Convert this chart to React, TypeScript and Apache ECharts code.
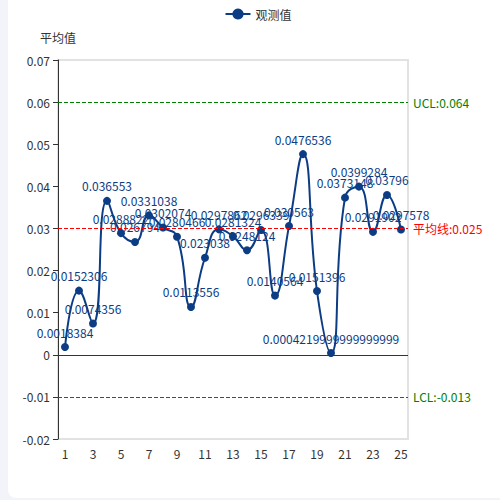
import { useEffect, useRef } from 'react';
import * as echarts from 'echarts';

const samples = [
  '1', '2', '3', '4', '5', '6', '7', '8', '9', '10', '11', '12', '13',
  '14', '15', '16', '17', '18', '19', '20', '21', '22', '23', '24', '25',
];

const observed = [
  0.0018384, 0.0152306, 0.0074356, 0.036553, 0.0288822, 0.026794, 0.0331038,
  0.0302074, 0.0280466, 0.0113556, 0.023038, 0.0297862, 0.0281324, 0.0248124,
  0.0296339, 0.0140564, 0.030563, 0.0476536, 0.0151396, 0.0004219999999999999,
  0.0373148, 0.0399284, 0.0291902, 0.03796, 0.0297578,
];

// control limits: where the line sits, and what its label says
const ucl = { at: 0.06, text: 'UCL:0.064' };
const mean = { at: 0.03, text: '平均线:0.025' };
const lcl = { at: -0.01, text: 'LCL:-0.013' };

const FONT = '"Noto Sans CJK SC", "Noto Sans", sans-serif';
const BLUE = '#0c3d84';

export default function App() {
  const chartRef = useRef<HTMLDivElement>(null);

  useEffect(() => {
    if (!chartRef.current) return;
    const chart = echarts.init(chartRef.current, null, { renderer: 'svg' });

    const limitLine = (at: number, text: string, color: string) => ({
      yAxis: at,
      lineStyle: { color, type: 'dashed', width: 1 },
      label: { formatter: text, color, fontSize: 12, fontFamily: FONT },
    });

    const option: echarts.EChartsOption = {
      animation: false,
      textStyle: { fontFamily: FONT },
      legend: {
        top: 9,
        left: 'center',
        data: ['观测值'],
        textStyle: { color: '#333', fontSize: 12 },
      },
      grid: {
        top: 66,
        left: 50,
        right: 100,
        bottom: 59,
        show: true,
        borderColor: '#e2e2e2',
        borderWidth: 2,
        backgroundColor: 'transparent',
      },
      xAxis: {
        type: 'category',
        data: samples,
        axisLine: { show: false },
        axisTick: { show: false },
        axisLabel: { color: '#333', fontSize: 12, margin: 8 },
      },
      yAxis: {
        type: 'value',
        name: '平均值',
        nameGap: 17,
        nameTextStyle: { color: '#333', fontSize: 12 },
        min: -0.02,
        max: 0.07,
        interval: 0.01,
        axisLine: { show: true, lineStyle: { color: '#333' } },
        axisTick: { show: true },
        axisLabel: { color: '#333', fontSize: 12 },
        splitLine: { show: false },
      },
      series: [
        {
          name: '观测值',
          type: 'line',
          data: observed,
          smooth: true,
          symbol: 'circle',
          symbolSize: 8,
          itemStyle: { color: BLUE },
          lineStyle: { color: BLUE, width: 2 },
          label: { show: true, position: 'top', color: BLUE, fontSize: 12 },
          markLine: {
            silent: true,
            symbol: 'none',
            data: [
              limitLine(ucl.at, ucl.text, '#008000'),
              limitLine(mean.at, mean.text, '#ff0000'),
              limitLine(lcl.at, lcl.text, '#008000'),
              {
                yAxis: 0,
                lineStyle: { color: '#333', type: 'solid', width: 1 },
                label: { show: false },
              },
            ],
          },
        },
      ],
    };

    chart.setOption(option);
    return () => chart.dispose();
  }, []);

  return (
    <div style={{ position: 'fixed', inset: 0, background: '#f3f4f9' }}>
      <div
        style={{
          position: 'absolute',
          left: 8,
          top: -6,
          width: 500,
          height: 504,
          background: '#fff',
          borderRadius: 8,
          overflow: 'hidden',
        }}
      >
        <div ref={chartRef} style={{ width: 500, height: 504 }} />
      </div>
    </div>
  );
}
